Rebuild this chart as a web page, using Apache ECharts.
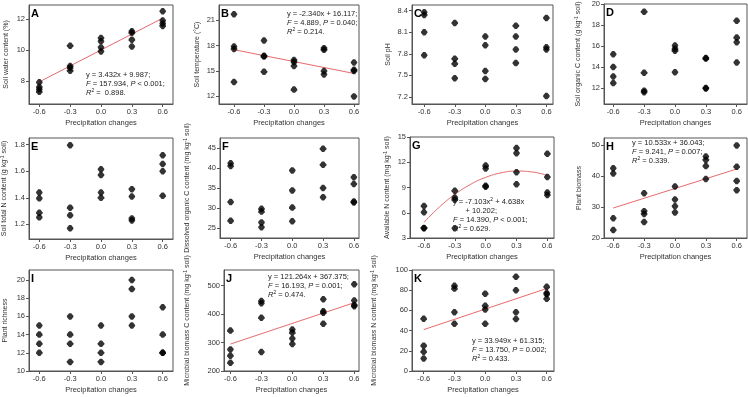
<!DOCTYPE html>
<html>
<head>
<meta charset="utf-8">
<script type="text/javascript" src="https://cdn.jsdelivr.net/npm/echarts@6/dist/echarts.min.js"></script>
<title>Precipitation changes</title>
</head>
<body style="margin:0">
<div id="container" style="width:748px;height:397px;"></div>
<script type="text/javascript">
// precipitation treatment levels (x of every panel)
var xLevels = [-0.6, -0.3, 0, 0.3, 0.6];
var xTicks = [-0.6, -0.3, 0, 0.3, 0.6];

// one inner array per precipitation level
var soilWater = [[7.9, 7.6, 7.45, 7.3], [10.27, 8.95, 8.85, 8.65], [10.77, 10.55, 10.16, 9.9], [11.2, 11.1, 10.66, 10.22], [12.5, 11.9, 11.7, 11.55]];
var soilTemp = [[21.7, 17.9, 17.6, 13.7], [18.6, 16.8, 16.7, 14.9], [16.3, 16.05, 15.6, 12.8], [17.7, 17.5, 15.0, 14.6], [16.0, 15.15, 15.0, 12.0]];
var soilPH = [[8.38, 8.34, 8.10, 7.78], [8.23, 7.73, 7.66, 7.46], [8.04, 7.92, 7.56, 7.45], [8.19, 8.04, 7.86, 7.67], [8.30, 7.89, 7.86, 7.21]];
var soilOC = [[15.22, 14.0, 13.1, 12.47], [19.27, 13.45, 11.75, 11.6], [16.05, 15.75, 15.55, 13.5], [14.85, 14.8, 12.0, 11.95], [18.41, 16.8, 16.36, 14.43]];
var soilTN = [[1.44, 1.396, 1.288, 1.253], [1.795, 1.326, 1.268, 1.17], [1.614, 1.571, 1.44, 1.40], [1.465, 1.41, 1.245, 1.23], [1.72, 1.654, 1.60, 1.415]];
var dissolvedC = [[41.2, 40.5, 31.5, 26.8], [29.8, 29.1, 26.4, 25.2], [39.4, 34.4, 30.1, 26.7], [44.8, 40.8, 35.0, 32.7], [37.7, 36.0, 31.6, 31.4]];
var availableN = [[6.8, 6.05, 4.2, 4.15], [8.6, 7.8, 7.55, 4.15], [11.6, 11.25, 9.2, 9.1], [13.68, 13.08, 10.81, 9.38], [13.0, 10.25, 8.4, 8.1]];
var plantBiomass = [[42.6, 40.9, 26.4, 22.6], [34.5, 28.7, 27.8, 25.2], [36.7, 32.5, 30.3, 28.3], [46.4, 45.3, 43.3, 39.1], [50.0, 43.1, 38.5, 35.5]];
var plantRichness = [[15, 14, 13, 12], [16, 14, 13, 11], [15, 13, 12, 11], [20, 19, 16, 15], [17, 14, 12, 12]];
var microbialC = [[342, 276, 254, 229], [446, 438, 387, 267], [346, 335, 314, 295], [452, 410, 405, 366], [505, 448, 432, 428]];
var microbialN = [[51.8, 25.1, 19.1, 12.4], [84.3, 81.6, 58.2, 46.8], [76.6, 64.5, 61, 46.8], [93.3, 79.9, 58.2, 51.5], [83.3, 77.3, 75.9, 71.6]];

// fitted lines
var fitA = [[-0.6, 7.93], [0.6, 12.05]];
var fitB = [[-0.6, 17.52], [0.6, 14.71]];
var fitG = [[-0.6, 4.86], [-0.45, 6.68], [-0.3, 8.17], [-0.15, 9.35], [0, 10.2], [0.15, 10.74], [0.3, 10.95], [0.45, 10.85], [0.6, 10.43]];
var fitH = [[-0.6, 29.72], [0.6, 42.36]];
var fitJ = [[-0.6, 294.6], [0.6, 440.1]];
var fitK = [[-0.6, 40.95], [0.6, 81.68]];

// y tick labels
var ticksA = [8, 10, 12];
var ticksB = [12, 15, 18, 21];
var ticksC = [7.2, 7.5, 7.8, 8.1, 8.4];
var ticksD = [12, 14, 16, 18, 20];
var ticksE = [1.2, 1.4, 1.6, 1.8];
var ticksF = [25, 30, 35, 40, 45];
var ticksG = [3, 6, 9, 12, 15];
var ticksH = [20, 30, 40, 50];
var ticksI = [10, 12, 14, 16, 18, 20];
var ticksJ = [200, 300, 400, 500];
var ticksK = [0, 20, 40, 60, 80, 100];

var FONT = 'Liberation Sans, Arial, sans-serif';
var RED = '#e66a6c';
// small filled octagon-like diamond, like the plotted markers
var MARK = 'path://M2,0 L4,0 L6,2.5 L6,3.5 L4,6 L2,6 L0,3.5 L0,2.5 Z';

// layout of the 11 panels: box = [left, top, width, height]
var panels = [
    { tag: 'A', data: soilWater, ticks: ticksA, fit: fitA, box: [29, 5, 144, 99], x: [-0.7, 0.7], y: [6.5, 12.9], dec: 0, gap: 19,
      name: 'Soil water content (%)',
      note: [86, 70, 'y = 3.432x + 9.987;\n{i|F} = 157.934, {i|P} < 0.001;\n{i|R}{s|2} =  0.898.'] },
    { tag: 'B', data: soilTemp, ticks: ticksB, fit: fitB, box: [219, 5, 140, 99], x: [-0.75, 0.65], y: [11.1, 22.8], dec: 0, gap: 18,
      name: 'Soil temperature (°C)',
      note: [287, 9, 'y = -2.340x + 16.117;\n{i|F} = 4.889, {i|P} = 0.040;\n{i|R}{s|2} = 0.214.'] },
    { tag: 'C', data: soilPH, ticks: ticksC, fit: null, box: [412, 5, 141, 99], x: [-0.72, 0.665], y: [7.1, 8.48], dec: 1, gap: 20,
      name: 'Soil pH' },
    { tag: 'D', data: soilOC, ticks: ticksD, fit: null, box: [604, 4, 143, 100], x: [-0.69, 0.7], y: [10.48, 20], dec: 0, gap: 21,
      name: 'Soil organic C content (g kg{s|-1} soil)' },
    { tag: 'E', data: soilTN, ticks: ticksE, fit: null, box: [29, 138, 144, 101], x: [-0.7, 0.7], y: [1.09, 1.85], dec: 1, gap: 20,
      name: 'Soil total N content (g kg{s|-1} soil)' },
    { tag: 'F', data: dissolvedC, ticks: ticksF, fit: null, box: [220, 138, 139, 100], x: [-0.704, 0.65], y: [22.5, 47.5], dec: 0, gap: 28,
      name: 'Dissolved organic C content (mg kg{s|-1} soil)' },
    { tag: 'G', data: availableN, ticks: ticksG, fit: fitG, box: [410, 137, 144, 101], x: [-0.736, 0.665], y: [3, 15], dec: 0, gap: 18,
      name: 'Available N content (mg kg{s|-1} soil)',
      note: [453, 197, 'y = -7.103x{s|2} + 4.638x\n      + 10.202;\n{i|F} = 14.390, {i|P} < 0.001;\n{i|R}{s|2} = 0.629.'] },
    { tag: 'H', data: plantBiomass, ticks: ticksH, fit: fitH, box: [604, 138, 143, 100], x: [-0.69, 0.7], y: [20, 52.4], dec: 0, gap: 21,
      name: 'Plant biomass',
      note: [632, 138, 'y = 10.533x + 36.043;\n{i|F} = 9.241, {i|P} = 0.007;\n{i|R}{s|2} = 0.339.'] },
    { tag: 'I', data: plantRichness, ticks: ticksI, fit: null, box: [29, 270, 144, 101], x: [-0.7, 0.7], y: [10, 21.1], dec: 0, gap: 20,
      name: 'Plant richness' },
    { tag: 'J', data: microbialC, ticks: ticksJ, fit: fitJ, box: [224, 270, 135, 101], x: [-0.662, 0.646], y: [200, 555], dec: 0, gap: 32,
      name: 'Microbial biomass C content (mg kg{s|-1} soil)',
      note: [268, 272, 'y = 121.264x + 367.375;\n{i|F} = 16.193, {i|P} = 0.001;\n{i|R}{s|2} = 0.474.'] },
    { tag: 'K', data: microbialN, ticks: ticksK, fit: fitK, box: [412, 270, 142, 101], x: [-0.714, 0.671], y: [0, 100], dec: 0, gap: 33,
      name: 'Microbial biomass N content (mg kg{s|-1} soil)',
      note: [472, 336, 'y = 33.949x + 61.315;\n{i|F} = 13.750, {i|P} = 0.002;\n{i|R}{s|2} = 0.433.'] }
];

var noteRich = {
    i: { fontStyle: 'italic', fontSize: 7.5, fontFamily: FONT, fill: '#222' },
    s: { fontSize: 5, fontFamily: FONT, fill: '#222', padding: [0, 0, 4, 0] }
};

var grids = [], xAxes = [], yAxes = [], series = [], graphics = [];

panels.forEach(function (p, i) {
    grids.push({
        left: p.box[0], top: p.box[1], width: p.box[2], height: p.box[3],
        show: true, borderColor: '#555', borderWidth: 1,
        containLabel: false, outerBoundsMode: 'none'
    });

    xAxes.push({
        gridIndex: i, type: 'value', min: p.x[0], max: p.x[1],
        name: 'Precipitation changes', nameLocation: 'middle', nameGap: 15,
        nameTextStyle: { fontSize: 7.5, color: '#333', fontFamily: FONT },
        axisLine: { show: true, onZero: false, lineStyle: { color: '#555' } },
        axisTick: { show: true, length: 3, customValues: xTicks, lineStyle: { color: '#555' } },
        axisLabel: { customValues: xTicks, fontSize: 7.5, color: '#333', fontFamily: FONT, margin: 4,
            formatter: function (v) { return v.toFixed(1); } },
        splitLine: { show: false }
    });

    yAxes.push({
        gridIndex: i, type: 'value', min: p.y[0], max: p.y[1],
        name: p.name, nameLocation: 'middle', nameGap: p.gap, nameRotate: 90,
        nameTextStyle: { fontSize: 7, color: '#333', fontFamily: FONT,
            rich: { s: { fontSize: 5, color: '#333', fontFamily: FONT, padding: [0, 0, 4, 0] } } },
        axisLine: { show: true, onZero: false, lineStyle: { color: '#555' } },
        axisTick: { show: true, length: 3, customValues: p.ticks, lineStyle: { color: '#555' } },
        axisLabel: { customValues: p.ticks, fontSize: 7.5, color: '#333', fontFamily: FONT, margin: 4,
            formatter: function (v) { return v.toFixed(p.dec); } },
        splitLine: { show: false }
    });

    var pts = [];
    p.data.forEach(function (group, k) {
        group.forEach(function (v) { pts.push([xLevels[k], v]); });
    });

    if (p.fit) {
        series.push({
            type: 'line', xAxisIndex: i, yAxisIndex: i, data: p.fit,
            smooth: p.fit.length > 2, symbol: 'none', silent: true,
            lineStyle: { color: RED, width: 1 }, z: 2
        });
    }

    series.push({
        type: 'scatter', xAxisIndex: i, yAxisIndex: i, data: pts,
        symbol: MARK, symbolSize: 6.5,
        itemStyle: { color: '#000' }, z: 3
    });

    // panel letter
    graphics.push({
        type: 'text', left: p.box[0] + 2, top: p.box[1] + 3, z: 10,
        style: { text: p.tag, fontSize: 11, fontWeight: 'bold', fontFamily: FONT, fill: '#000' }
    });

    // regression annotation
    if (p.note) {
        graphics.push({
            type: 'text', left: p.note[0], top: p.note[1], z: 10,
            style: { text: p.note[2], fontSize: 7.5, lineHeight: 9, fontFamily: FONT, fill: '#222', rich: noteRich }
        });
    }
});

var myChart = echarts.init(document.getElementById('container'));

var option = {
    backgroundColor: '#fff',
    animation: false,
    grid: grids,
    xAxis: xAxes,
    yAxis: yAxes,
    series: series,
    graphic: graphics
};

myChart.setOption(option);
</script>
</body>
</html>
